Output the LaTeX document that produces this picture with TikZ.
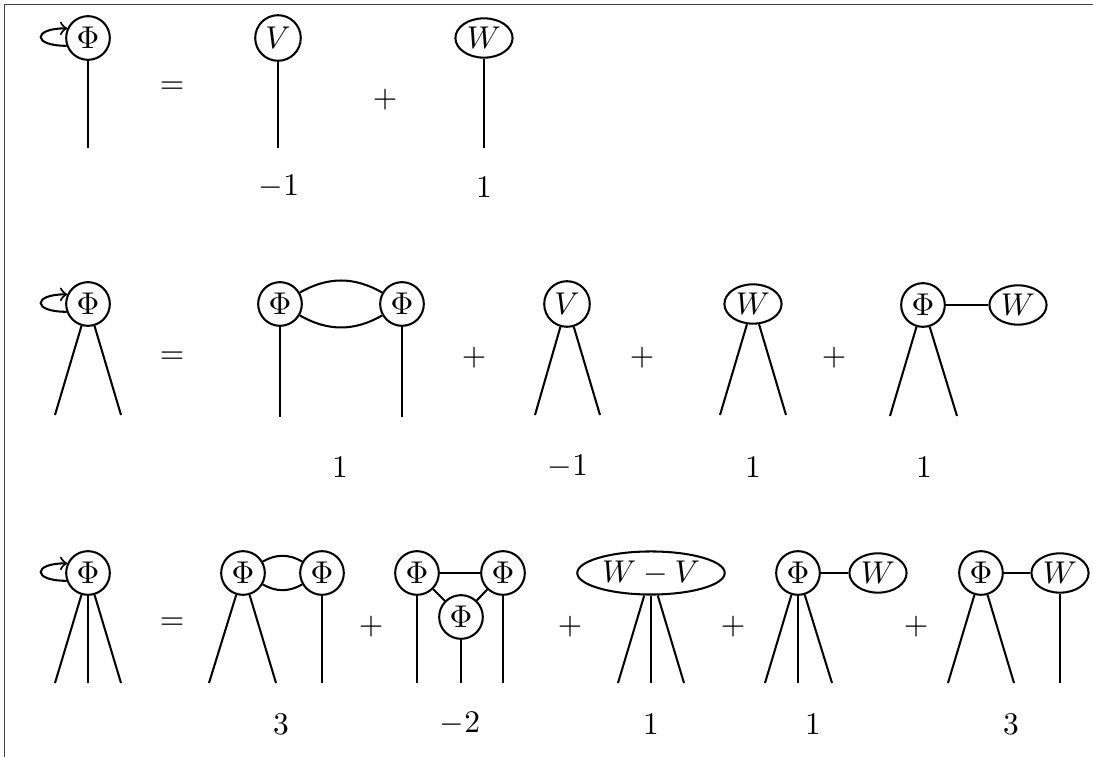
\documentclass[tikz,border=0pt]{standalone}
\usepackage{amsmath, amssymb}
\usepackage{tikz}
\usetikzlibrary{arrows, shapes.geometric}
\begin{document}
\begin{tikzpicture}[x=0.3175pt, y=0.3175pt, line width=0.65pt]
    \tikzstyle{vertex} = [draw, circle, inner sep=1.4pt]
    \tikzstyle{blob} = [draw, ellipse, inner sep=1pt]
    \useasboundingbox (0,0) rectangle (1093,-757);
    \draw[line width=0.5pt, black!75] (1093,-4.5) -- (4.5,-4.5) -- (4.5,-757);
    % first row
    \node [vertex] at (88,-38) (lhsa) {$\Phi$};
    \coordinate (lhsa1) at (88,-148);
    \draw[->] (lhsa.200) to[out=180, in=180, distance=11pt] (lhsa.155);
    \draw (lhsa) -- (lhsa1);
    \node at (172,-88) (eqa) {$=$};
    \node [vertex] at (278,-38) (va) {$V$};
    \coordinate (va1) at (278,-148);
    \draw (va) -- (va1);
    \node at (279,-187) (ca1) {$-1$};
    \node at (385,-100) (pa1) {$+$};
    \node [blob] at (484,-38) (wa) {$W$};
    \coordinate (wa1) at (484,-148);
    \draw (wa) -- (wa1);
    \node at (484,-187) (ca2) {$1$};
    % second row
    \node [vertex] at (88,-304) (lhsb) {$\Phi$};
    \coordinate (lhsb1) at (55,-415); \coordinate (lhsb2) at (121,-415);
    \draw[->] (lhsb.200) to[out=180, in=180, distance=11pt] (lhsb.155);
    \draw (lhsb) -- (lhsb1); \draw (lhsb) -- (lhsb2);
    \node at (172,-358) (eqb) {$=$};
    \node [vertex] at (280,-304) (phib1) {$\Phi$};
    \node [vertex] at (402,-304) (phib2) {$\Phi$};
    \coordinate (phib11) at (280,-417); \coordinate (phib21) at (402,-417);
    \draw[bend left=30] (phib1) to (phib2);
    \draw[bend right=30] (phib1) to (phib2);
    \draw (phib1) -- (phib11); \draw (phib2) -- (phib21);
    \node at (340,-467) (cb1) {$1$};
    \node at (474,-358) (pb1) {$+$};
    \node [vertex] at (567,-304) (vb) {$V$};
    \coordinate (vb1) at (535,-415); \coordinate (vb2) at (600,-415);
    \draw (vb) -- (vb1); \draw (vb) -- (vb2);
    \node at (568,-467) (cb2) {$-1$};
    \node at (642,-358) (pb2) {$+$};
    \node [blob] at (753,-304) (wb) {$W$};
    \coordinate (wb1) at (720,-415); \coordinate (wb2) at (786,-415);
    \draw (wb) -- (wb1); \draw (wb) -- (wb2);
    \node at (753,-467) (cb3) {$1$};
    \node at (834,-358) (pb3) {$+$};
    \node [vertex] at (923,-305) (phib3) {$\Phi$};
    \node [blob] at (1018,-305) (wb3) {$W$};
    \coordinate (phib31) at (890,-416); \coordinate (phib32) at (957,-416);
    \draw (phib3) -- (wb3);
    \draw (phib3) -- (phib31); \draw (phib3) -- (phib32);
    \node at (924,-467) (cb4) {$1$};
    % third row
    \node [vertex] at (88,-573) (lhsc) {$\Phi$};
    \coordinate (lhsc1) at (55,-683); \coordinate (lhsc2) at (88,-683);
    \coordinate (lhsc3) at (121,-683);
    \draw[->] (lhsc.200) to[out=180, in=180, distance=11pt] (lhsc.155);
    \draw (lhsc) -- (lhsc1); \draw (lhsc) -- (lhsc2); \draw (lhsc) -- (lhsc3);
    \node at (172,-624) (eqc) {$=$};
    \node [vertex] at (243,-573) (phic1) {$\Phi$};
    \node [vertex] at (322,-573) (phic2) {$\Phi$};
    \coordinate (phic11) at (209,-683); \coordinate (phic12) at (276,-683);
    \coordinate (phic21) at (322,-683);
    \draw[bend left=30] (phic1) to (phic2);
    \draw[bend right=30] (phic1) to (phic2);
    \draw (phic1) -- (phic11); \draw (phic1) -- (phic12);
    \draw (phic2) -- (phic21);
    \node at (281,-724) (cc1) {$3$};
    \node at (371,-627) (pc1) {$+$};
    \node [vertex] at (417,-573) (trl) {$\Phi$};
    \node [vertex] at (503,-573) (trr) {$\Phi$};
    \node [vertex] at (461,-617) (trb) {$\Phi$};
    \coordinate (trl1) at (417,-683); \coordinate (trb1) at (461,-683);
    \coordinate (trr1) at (503,-683);
    \draw (trl) -- (trr); \draw (trl) -- (trb); \draw (trr) -- (trb);
    \draw (trl) -- (trl1); \draw (trb) -- (trb1); \draw (trr) -- (trr1);
    \node at (460,-724) (cc2) {$-2$};
    \node at (570,-627) (pc2) {$+$};
    \node [blob] at (651,-573) (wv) {$W-V$};
    \coordinate (wv1) at (618,-683); \coordinate (wv2) at (651,-683);
    \coordinate (wv3) at (684,-683);
    \draw (wv) -- (wv1); \draw (wv) -- (wv2); \draw (wv) -- (wv3);
    \node at (651,-724) (cc3) {$1$};
    \node at (733,-627) (pc3) {$+$};
    \node [vertex] at (798,-573) (phic3) {$\Phi$};
    \node [blob] at (878,-573) (wc3) {$W$};
    \coordinate (phic31) at (765,-683); \coordinate (phic32) at (798,-683);
    \coordinate (phic33) at (832,-683);
    \draw (phic3) -- (wc3);
    \draw (phic3) -- (phic31); \draw (phic3) -- (phic32); \draw (phic3) -- (phic33);
    \node at (813,-724) (cc4) {$1$};
    \node at (916,-627) (pc4) {$+$};
    \node [vertex] at (981,-573) (phic4) {$\Phi$};
    \node [blob] at (1060,-573) (wc4) {$W$};
    \coordinate (phic41) at (948,-683); \coordinate (phic42) at (1014,-683);
    \coordinate (wc41) at (1060,-683);
    \draw (phic4) -- (wc4);
    \draw (phic4) -- (phic41); \draw (phic4) -- (phic42);
    \draw (wc4) -- (wc41);
    \node at (1011,-724) (cc5) {$3$};
\end{tikzpicture}
\end{document}
